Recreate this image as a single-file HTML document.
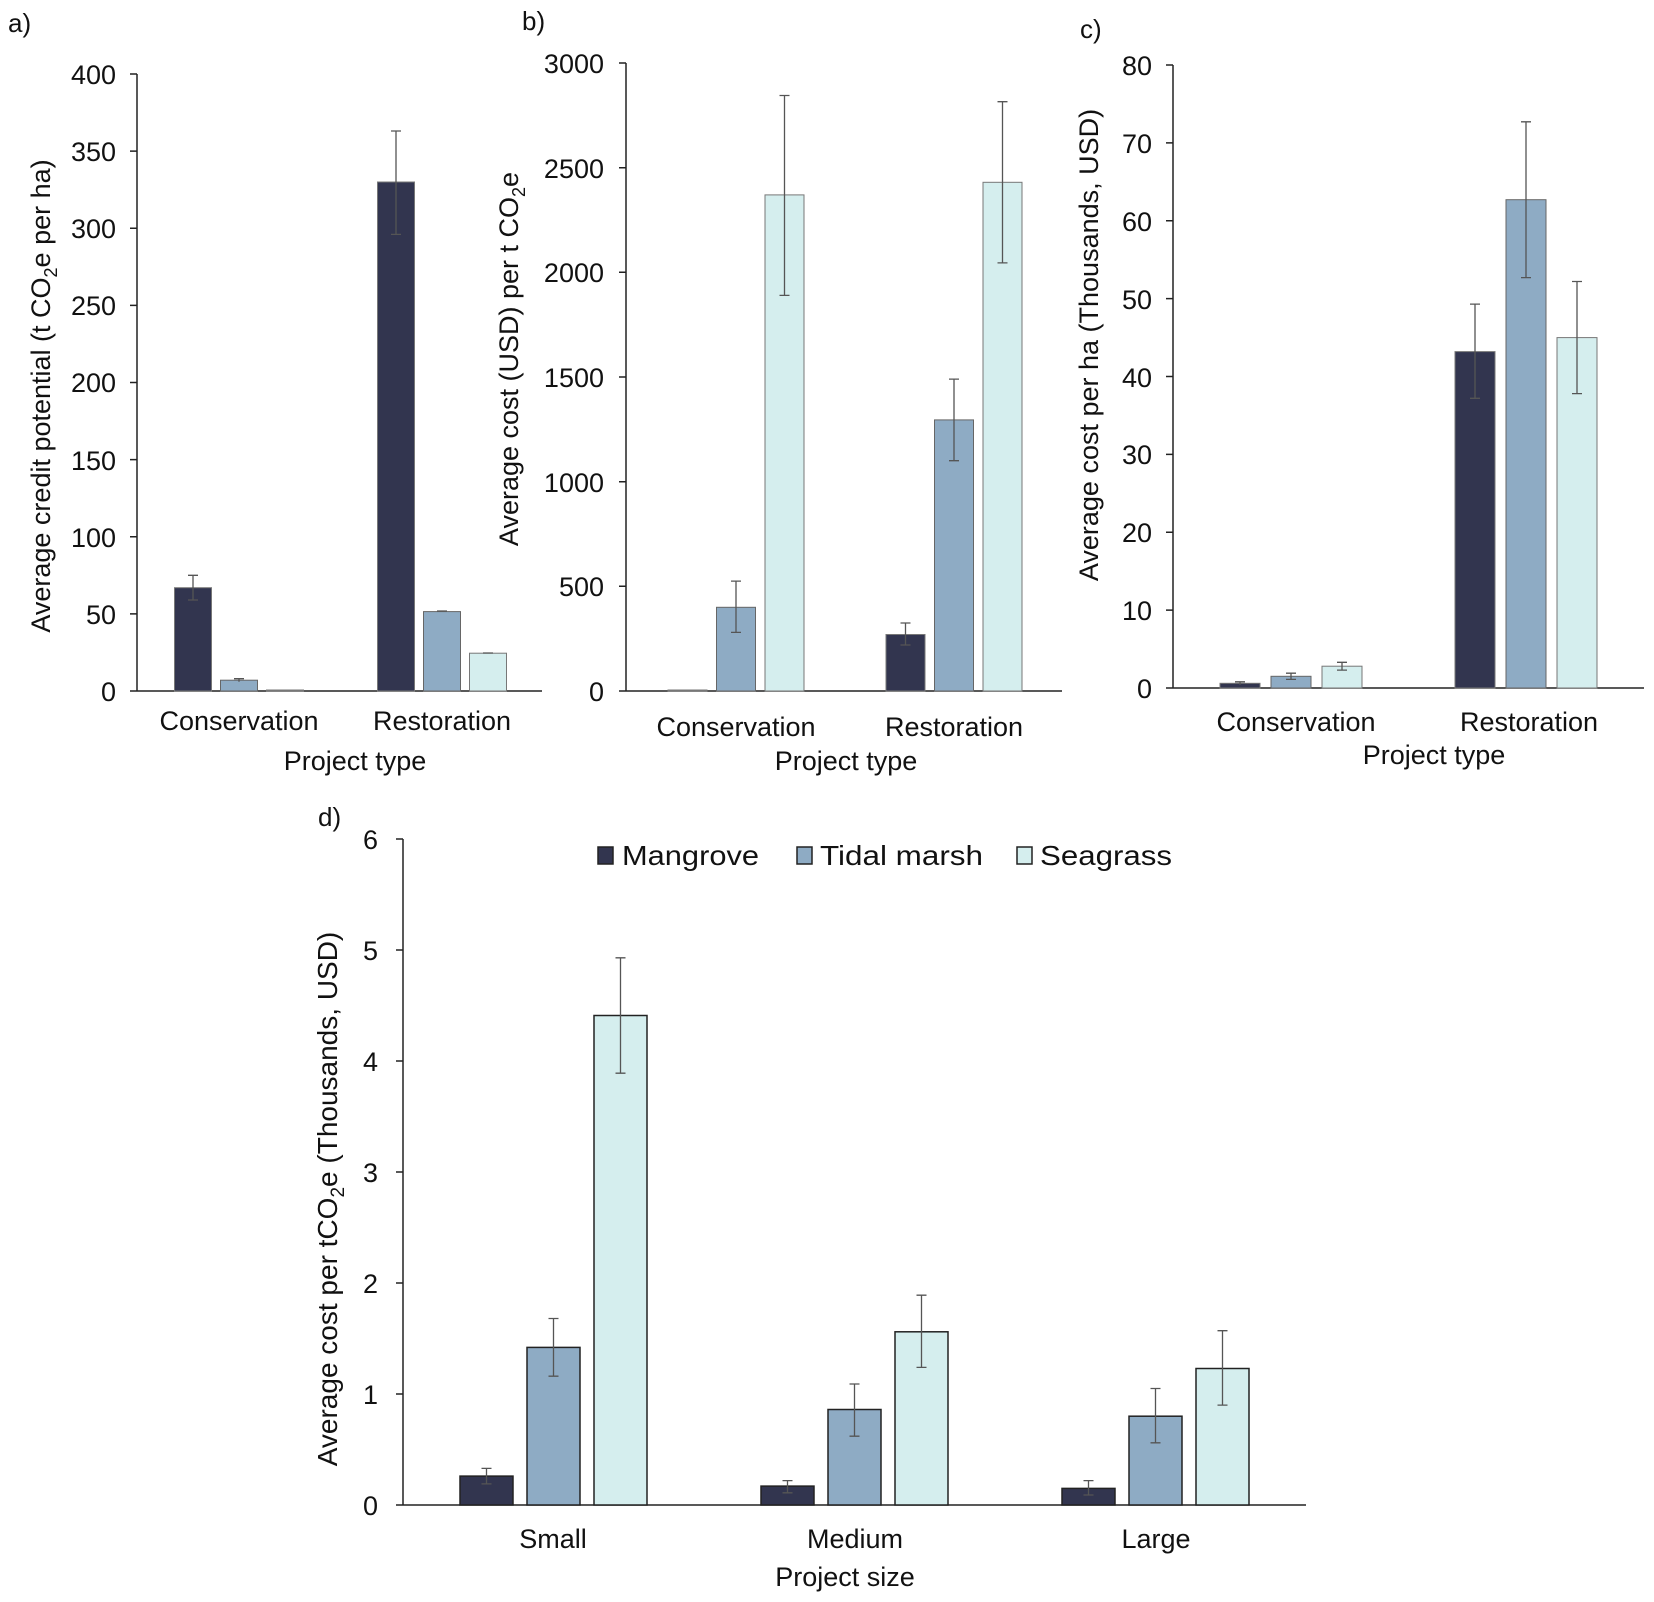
<!DOCTYPE html>
<html><head><meta charset="utf-8"><style>
html,body{margin:0;padding:0;background:#fff}
svg{display:block}
text{font-family:"Liberation Sans",Arial,sans-serif;fill:#111}
.t{font-size:27px;text-anchor:end}
.c{font-size:27px;text-anchor:middle}
.ax{stroke:#222;stroke-width:1.5;fill:none}
.m{fill:#32354f;stroke:#777;stroke-width:1}
.tm{fill:#8eabc4;stroke:#666;stroke-width:1}
.s{fill:#d5eeee;stroke:#777;stroke-width:1}
.md{fill:#32354f;stroke:#222;stroke-width:1.5}
.tmd{fill:#8eabc4;stroke:#222;stroke-width:1.5}
.sd{fill:#d5eeee;stroke:#222;stroke-width:1.5}
.e{stroke:#555;stroke-width:1.3;fill:none}
</style></head><body>
<svg width="1654" height="1602" viewBox="0 0 1654 1602" xmlns="http://www.w3.org/2000/svg">
<!-- Panel a -->
<text x="8" y="32" style="font-size:26px">a)</text>
<path class="ax" d="M137,74V691H542 M130,74H137 M130,151.1H137 M130,228.3H137 M130,305.4H137 M130,382.5H137 M130,459.6H137 M130,536.8H137 M130,613.9H137 M130,691H137"/>
<g class="t"><text x="116" y="84">400</text><text x="116" y="161">350</text><text x="116" y="238">300</text><text x="116" y="315">250</text><text x="116" y="392">200</text><text x="116" y="470">150</text><text x="116" y="547">100</text><text x="116" y="624">50</text><text x="116" y="701">0</text></g>
<text transform="translate(50,396) rotate(-90)" style="font-size:27px;text-anchor:middle">Average credit potential (t CO<tspan dy="7" style="font-size:18px">2</tspan><tspan dy="-7">e per ha)</tspan></text>
<rect class="m" x="174.5" y="587.7" width="37" height="103.3"/>
<rect class="tm" x="220.5" y="680.2" width="37" height="10.8"/>
<rect class="s" x="266.5" y="690" width="37" height="1"/>
<rect class="m" x="377.5" y="182" width="37" height="509"/>
<rect class="tm" x="423.5" y="611.6" width="37" height="79.4"/>
<rect class="s" x="469.5" y="653.2" width="37" height="37.8"/>
<path class="e" d="M193,575.3V600M188,575.3H198M188,600H198 M239,678.7V681.7M234,678.7H244 M396,131V234.4M391,131H401M391,234.4H401 M437,611H447 M483,653H493"/>
<text class="c" x="239" y="730">Conservation</text><text class="c" x="442" y="730">Restoration</text>
<text class="c" x="355" y="770">Project type</text>

<!-- Panel b -->
<text x="522" y="30" style="font-size:26px">b)</text>
<path class="ax" d="M626,63V691H1062 M619,63H626 M619,167.7H626 M619,272.3H626 M619,377H626 M619,481.7H626 M619,586.3H626 M619,691H626"/>
<g class="t"><text x="604" y="73">3000</text><text x="604" y="178">2500</text><text x="604" y="282">2000</text><text x="604" y="387">1500</text><text x="604" y="492">1000</text><text x="604" y="596">500</text><text x="604" y="701">0</text></g>
<text transform="translate(518,359) rotate(-90)" style="font-size:27px;text-anchor:middle">Average cost (USD) per t CO<tspan dy="7" style="font-size:18px">2</tspan><tspan dy="-7">e</tspan></text>
<rect class="m" x="668" y="690" width="39" height="1"/>
<rect class="tm" x="716.5" y="607.3" width="39" height="83.7"/>
<rect class="s" x="765" y="194.9" width="39" height="496.1"/>
<rect class="m" x="886" y="634.5" width="39" height="56.5"/>
<rect class="tm" x="934.5" y="419.9" width="39" height="271.1"/>
<rect class="s" x="983" y="182.3" width="39" height="508.7"/>
<path class="e" d="M736,581.1V632.4M731,581.1H741M731,632.4H741 M784.5,95.5V295.4M779.5,95.5H789.5M779.5,295.4H789.5 M905.5,623V645M900.5,623H910.5M900.5,645H910.5 M954,379.1V460.7M949,379.1H959M949,460.7H959 M1002.5,101.7V262.9M997.5,101.7H1007.5M997.5,262.9H1007.5"/>
<text class="c" x="736" y="736">Conservation</text><text class="c" x="954" y="736">Restoration</text>
<text class="c" x="846" y="770">Project type</text>

<!-- Panel c -->
<text x="1080" y="38" style="font-size:26px">c)</text>
<path class="ax" d="M1173,65V688H1644 M1166,65H1173 M1166,142.9H1173 M1166,220.8H1173 M1166,298.6H1173 M1166,376.5H1173 M1166,454.4H1173 M1166,532.3H1173 M1166,610.1H1173 M1166,688H1173"/>
<g class="t"><text x="1152" y="75">80</text><text x="1152" y="153">70</text><text x="1152" y="231">60</text><text x="1152" y="309">50</text><text x="1152" y="387">40</text><text x="1152" y="464">30</text><text x="1152" y="542">20</text><text x="1152" y="620">10</text><text x="1152" y="698">0</text></g>
<text transform="translate(1098,345) rotate(-90)" style="font-size:27px;text-anchor:middle">Average cost per ha (Thousands, USD)</text>
<rect class="m" x="1220" y="683.3" width="40" height="4.7"/>
<rect class="tm" x="1271" y="676.3" width="40" height="11.7"/>
<rect class="s" x="1322" y="666.2" width="40" height="21.8"/>
<rect class="m" x="1455" y="351.6" width="40" height="336.4"/>
<rect class="tm" x="1506" y="199.7" width="40" height="488.3"/>
<rect class="s" x="1557" y="337.6" width="40" height="350.4"/>
<path class="e" d="M1240,681.8V684.9M1235,681.8H1245 M1291,673.2V679.4M1286,673.2H1296M1286,679.4H1296 M1342,662.3V670.1M1337,662.3H1347M1337,670.1H1347 M1475,304.1V398.3M1470,304.1H1480M1470,398.3H1480 M1526,121.8V277.6M1521,121.8H1531M1521,277.6H1531 M1577,281.5V393.6M1572,281.5H1582M1572,393.6H1582"/>
<text class="c" x="1296" y="731">Conservation</text><text class="c" x="1529" y="731">Restoration</text>
<text class="c" x="1434" y="764">Project type</text>

<!-- Panel d -->
<text x="318" y="826" style="font-size:26px">d)</text>
<path class="ax" d="M403,839V1505H1306 M396,839H403 M396,950H403 M396,1061H403 M396,1172H403 M396,1283H403 M396,1394H403 M396,1505H403"/>
<g class="t"><text x="378" y="849">6</text><text x="378" y="960">5</text><text x="378" y="1071">4</text><text x="378" y="1182">3</text><text x="378" y="1293">2</text><text x="378" y="1404">1</text><text x="378" y="1515">0</text></g>
<text transform="translate(337,1199) rotate(-90)" style="font-size:28px;text-anchor:middle">Average cost per tCO<tspan dy="7" style="font-size:19px">2</tspan><tspan dy="-7">e (Thousands, USD)</tspan></text>
<rect class="md" x="598" y="847" width="15" height="17"/>
<text x="622" y="865" style="font-size:28px" textLength="137" lengthAdjust="spacingAndGlyphs">Mangrove</text>
<rect class="tmd" x="797" y="847" width="15" height="17"/>
<text x="820" y="865" style="font-size:28px" textLength="163" lengthAdjust="spacingAndGlyphs">Tidal marsh</text>
<rect class="sd" x="1017" y="847" width="15" height="17"/>
<text x="1040" y="865" style="font-size:28px" textLength="132" lengthAdjust="spacingAndGlyphs">Seagrass</text>
<rect class="md" x="460" y="1476.1" width="53" height="28.9"/>
<rect class="tmd" x="527" y="1347.4" width="53" height="157.6"/>
<rect class="sd" x="594" y="1015.5" width="53" height="489.5"/>
<rect class="md" x="761" y="1486.1" width="53" height="18.9"/>
<rect class="tmd" x="828" y="1409.5" width="53" height="95.5"/>
<rect class="sd" x="895" y="1331.8" width="53" height="173.2"/>
<rect class="md" x="1062" y="1488.4" width="53" height="16.6"/>
<rect class="tmd" x="1129" y="1416.2" width="53" height="88.8"/>
<rect class="sd" x="1196" y="1368.5" width="53" height="136.5"/>
<path class="e" d="M486.5,1468.4V1483.9M481.5,1468.4H491.5M481.5,1483.9H491.5 M553.5,1318.5V1376.2M548.5,1318.5H558.5M548.5,1376.2H558.5 M620.5,957.8V1073.2M615.5,957.8H625.5M615.5,1073.2H625.5 M787.5,1480.6V1492.8M782.5,1480.6H792.5M782.5,1492.8H792.5 M854.5,1384V1436.2M849.5,1384H859.5M849.5,1436.2H859.5 M921.5,1295.2V1367.4M916.5,1295.2H926.5M916.5,1367.4H926.5 M1088.5,1480.6V1495M1083.5,1480.6H1093.5M1083.5,1495H1093.5 M1155.5,1388.5V1442.8M1150.5,1388.5H1160.5M1150.5,1442.8H1160.5 M1222.5,1330.7V1405.1M1217.5,1330.7H1227.5M1217.5,1405.1H1227.5"/>
<text class="c" x="553" y="1548">Small</text><text class="c" x="855" y="1548">Medium</text><text class="c" x="1156" y="1548">Large</text>
<text class="c" x="845" y="1586">Project size</text>
</svg>
</body></html>
